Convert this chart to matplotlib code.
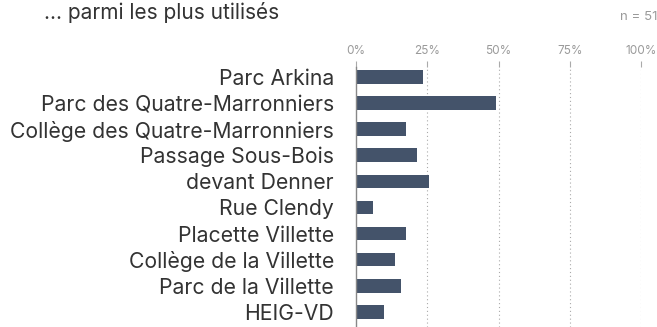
import numpy as np
import matplotlib.pyplot as plt

plt.rcParams['font.family'] = ['Inter', 'DejaVu Sans']

places = ["Parc Arkina", "Parc des Quatre-Marronniers", "Collège des Quatre-Marronniers",
          "Passage Sous-Bois", "devant Denner", "Rue Clendy", "Placette Villette",
          "Collège de la Villette", "Parc de la Villette", "HEIG-VD"]
counts = [12, 25, 9, 11, 13, 3, 9, 7, 8, 5]
n_total = 51
ticks = [0, 25, 50, 75, 100]

share = np.array(counts) / n_total * 100
y = np.arange(len(places))

fig = plt.figure(figsize=(6.57, 3.27), dpi=100)
ax = fig.add_axes([356/657, 0, 285/657, 260/327])

ax.barh(y, share, height=0.52, color='#44536a', zorder=3)
ax.set_xlim(0, 100)
ax.set_ylim(9.58, -0.38)

ax.set_yticks(y)
ax.set_yticklabels(places, fontsize=15.25, color='#333333')
ax.tick_params(axis='y', length=0, pad=16)

ax.xaxis.tick_top()
ax.set_xticks(ticks)
ax.set_xticklabels([f"{t}%" for t in ticks], fontsize=8.5, color='#9a9a9a')
ax.tick_params(axis='x', length=4, width=0.8, color='#aaaaaa', pad=3)
for t in ax.xaxis.get_major_ticks():
    t.tick2line.set_linestyle((0, (1, 1.5)))

for s in ['top', 'right', 'bottom']:
    ax.spines[s].set_visible(False)
ax.spines['left'].set_color('#888888')
ax.spines['left'].set_linewidth(1)
ax.spines['left'].set_zorder(4)

for t in ticks[1:]:
    ax.axvline(t, color='#aaaaaa', linewidth=0.8, linestyle=(0, (1, 2.5)), zorder=1)

fig.text(44/657, 1 - 19/327, "… parmi les plus utilisés", fontsize=15, color='#333333',
         va='baseline', ha='left')
fig.text(1.0, 1 - 17/327, "n = 51", fontsize=9.5, color='#9a9a9a', va='center', ha='right')

fig.savefig('out.png', dpi=100)
